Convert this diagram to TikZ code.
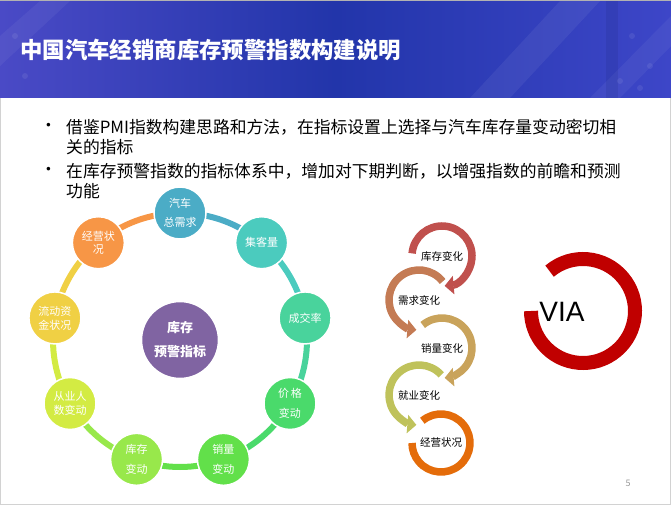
\documentclass[tikz,border=0pt]{standalone}
\usepackage{fontspec}
\setmainfont{Noto Sans CJK SC}
\newfontfamily\latinsans{Liberation Sans}
\usetikzlibrary{arrows.meta,calc}
\definecolor{hdrL}{HTML}{4A4AC6}
\definecolor{hdrM}{HTML}{2235AA}
\definecolor{hdrR}{HTML}{3D46C8}
\definecolor{cA}{HTML}{4BACC6}
\definecolor{cB}{HTML}{4BCBBE}
\definecolor{cC}{HTML}{49D39C}
\definecolor{cD}{HTML}{4ADA6B}
\definecolor{cE}{HTML}{62E04A}
\definecolor{cF}{HTML}{98E84B}
\definecolor{cG}{HTML}{D3EB43}
\definecolor{cH}{HTML}{F0D044}
\definecolor{cI}{HTML}{F79646}
\definecolor{cCtr}{HTML}{8064A2}
\definecolor{r1}{HTML}{C0504D}
\definecolor{r2}{HTML}{C47B54}
\definecolor{r3}{HTML}{C9A35B}
\definecolor{r4}{HTML}{BFC25B}
\definecolor{r5}{HTML}{E46C0A}
\definecolor{via}{HTML}{C00000}
\begin{document}
\begin{tikzpicture}[x=1pt,y=1pt,
  outer/.style={circle, minimum size=52pt, inner sep=0pt, draw=white, line width=1.5pt, text=white, align=center},
  seg/.style={line width=6pt},
  chainarc/.style={line width=7.5pt},
  chaintext/.style={font=\fontsize{10.5}{12}\selectfont, text=black},
  bul/.style={anchor=west, inner sep=0pt, font=\fontsize{16.8}{20}\selectfont}]
\useasboundingbox (0,0) rectangle (671,506);
% frame
\draw[gray!35, line width=1pt] (0.5,1.5) rectangle (670.5,505.5);
% header
\shade[left color=hdrL, right color=hdrR, middle color=hdrM] (0,408) rectangle (671,505);
\fill[white, opacity=0.06] (470,408) -- (560,505) -- (600,505) -- (510,408) -- cycle;
\fill[white, opacity=0.05] (590,408) -- (671,490) -- (671,460) -- (620,408) -- cycle;
\fill[white, opacity=0.05] (0,470) -- (40,505) -- (70,505) -- (0,440) -- cycle;
\fill[hdrM!70!black, opacity=0.15] (606,408) rectangle (618,505);
\foreach \p in {(632,470),(650,440),(620,425),(25,430),(15,470),(640,418)}
  \fill[white, opacity=0.08] \p circle (3pt);
\draw[gray!60, line width=1.2pt] (0,505.4) -- (671,505.4);
\node[anchor=west, inner sep=0pt, text=white, font=\fontsize{22.4}{24}\selectfont\bfseries] (title) at (20,456) {中国汽车经销商库存预警指数构建说明};
% bullets
\node[bul] (b1) at (40,379) {•};
\node[bul] (t1a) at (66,379) {借鉴PMI指数构建思路和方法，在指标设置上选择与汽车库存量变动密切相};
\node[bul] (t1b) at (66,359) {关的指标};
\node[bul] (b2) at (40,335) {•};
\node[bul] (t2a) at (66,335) {在库存预警指数的指标体系中，增加对下期判断，以增强指数的前瞻和预测};
\node[bul] (t2b) at (66,315) {功能};
% ring diagram
\coordinate (ctr) at (180,166);
\draw[seg, cA] ([shift={(90:127)}]ctr) arc (90:50:127);
\draw[seg, cB] ([shift={(50:127)}]ctr) arc (50:10:127);
\draw[seg, cC] ([shift={(10:127)}]ctr) arc (10:-30:127);
\draw[seg, cD] ([shift={(-30:127)}]ctr) arc (-30:-70:127);
\draw[seg, cE] ([shift={(-70:127)}]ctr) arc (-70:-110:127);
\draw[seg, cF] ([shift={(-110:127)}]ctr) arc (-110:-150:127);
\draw[seg, cG] ([shift={(-150:127)}]ctr) arc (-150:-190:127);
\draw[seg, cH] ([shift={(170:127)}]ctr) arc (170:130:127);
\draw[seg, cI] ([shift={(130:127)}]ctr) arc (130:90:127);
\node[outer, fill=cA, font=\fontsize{11}{19}\selectfont] (n1) at ([shift={(90:127)}]ctr) {汽车\\总需求};
\node[outer, fill=cB, font=\fontsize{11}{13}\selectfont] (n2) at ([shift={(50:127)}]ctr) {集客量};
\node[outer, fill=cC, font=\fontsize{11}{13}\selectfont] (n3) at ([shift={(10:127)}]ctr) {成交率};
\node[outer, fill=cD, font=\fontsize{11}{20}\selectfont] (n4) at ([shift={(-30:127)}]ctr) {价\,格\\变动};
\node[outer, fill=cE, font=\fontsize{11}{20}\selectfont] (n5) at ([shift={(-70:127)}]ctr) {销量\\变动};
\node[outer, fill=cF, font=\fontsize{11}{20}\selectfont] (n6) at ([shift={(-110:127)}]ctr) {库存\\变动};
\node[outer, fill=cG, font=\fontsize{11}{13.5}\selectfont] (n7) at ([shift={(-150:127)}]ctr) {从业人\\数变动};
\node[outer, fill=cH, font=\fontsize{11}{14}\selectfont] (n8) at ([shift={(170:127)}]ctr) {流动资\\金状况};
\node[outer, fill=cI, font=\fontsize{11}{13.5}\selectfont] (n9) at ([shift={(130:127)}]ctr) {经营状\\况};
\node[circle, minimum size=77pt, inner sep=0pt, fill=cCtr, draw=white, line width=1.5pt, text=white, align=center, font=\fontsize{13}{24}\selectfont\bfseries] (core) at (ctr) {库存\\预警指标};
% chain of arcs
\coordinate (k1) at (442,250);
\coordinate (k2) at (419,206);
\coordinate (k3) at (442,158);
\coordinate (k4) at (419,111);
\coordinate (k5) at (441,63);
\draw[chainarc, r1, -{Triangle[width=18pt,length=9pt]}] ([shift={(175:30)}]k1) arc (175:-85:30);
\draw[chainarc, r2, -{Triangle[width=18pt,length=9pt]}] ([shift={(38:30)}]k2) arc (38:265:30);
\draw[chainarc, r3, -{Triangle[width=18pt,length=9pt]}] ([shift={(130:30)}]k3) arc (130:-85:30);
\draw[chainarc, r4, -{Triangle[width=18pt,length=9pt]}] ([shift={(42:30)}]k4) arc (42:265:30);
\draw[chainarc, r5] ([shift={(130:29)}]k5) arc (130:-180:29);
\node[chaintext] (l1) at (k1) {库存变化};
\node[chaintext] (l2) at (k2) {需求变化};
\node[chaintext] (l3) at (k3) {销量变化};
\node[chaintext] (l4) at (k4) {就业变化};
\node[chaintext] (l5) at (k5) {经营状况};
% VIA
\coordinate (vc) at (583,195);
\draw[via, line width=14pt] ([shift={(130:52)}]vc) arc (130:-180:52);
\node[inner sep=0pt, font=\latinsans\fontsize{28}{30}\selectfont] (vtext) at (562,194) {VIA};
\node[text=gray!80, font=\fontsize{9}{10}\selectfont] (pg) at (628,23) {5};
\end{tikzpicture}
\end{document}
